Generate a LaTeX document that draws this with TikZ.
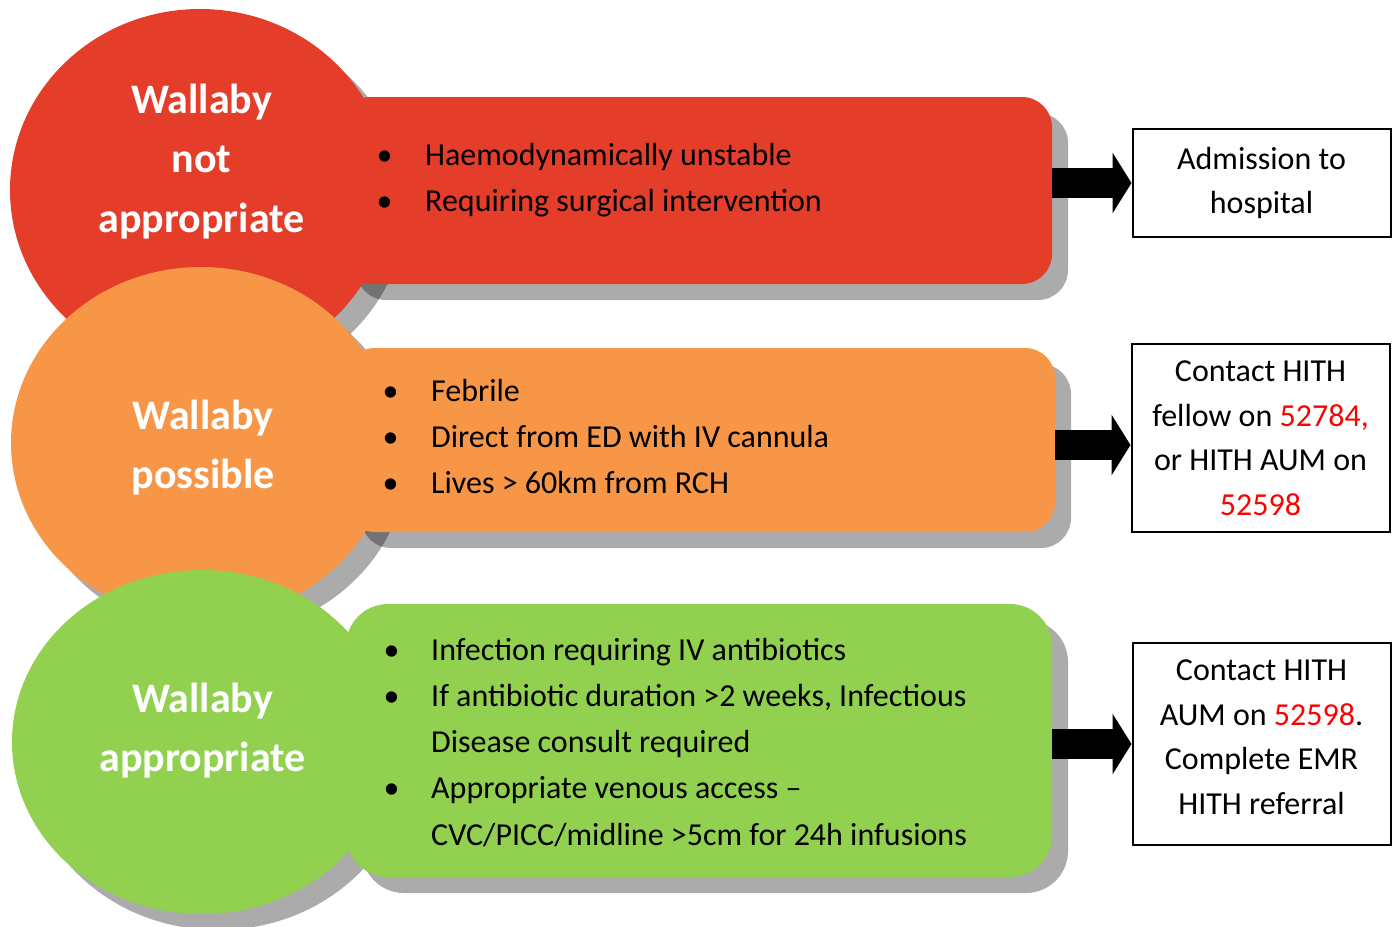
\documentclass[tikz,border=0pt]{standalone}
\usepackage{fontspec}
\setmainfont{Carlito}
\usetikzlibrary{arrows.meta,positioning,shapes.geometric}
\definecolor{wred}{HTML}{E43D2A}
\definecolor{worange}{HTML}{F79646}
\definecolor{wgreen}{HTML}{92D050}
\definecolor{numred}{HTML}{FF0000}

\begin{document}
\begin{tikzpicture}[x=1pt, y=-1pt,
    every node/.style={font=\fontsize{32}{44.5}\selectfont},
    blob/.style={ellipse, minimum width=380pt, minimum height=#1, inner sep=0pt},
    band/.style={rectangle, rounded corners=#1, inner sep=0pt},
    shade/.style={fill=black, fill opacity=0.33, draw=none},
    title/.style={text=white, font=\bfseries\fontsize{42}{59.5}\selectfont, anchor=base, inner sep=0pt},
    items/.style={anchor=base west, inner sep=0pt, font=\fontsize{32}{46.3}\selectfont},
    outbox/.style={draw, line width=2pt, minimum width=258pt, align=center, inner sep=0pt},
    fat/.style={line width=30pt, -{Triangle[length=19pt, width=60pt]}}
  ]
  \useasboundingbox (0,0) rectangle (1394,926);

  \node[blob=362pt, shade] (redcircsh) at (216,206) {};
  \node[band=30pt, shade, minimum width=712pt, minimum height=187pt] (redrectsh) at (712,206.5) {};
  \node[blob=362pt, fill=wred] (redcirc) at (200,190) {};
  \node[band=30pt, fill=wred, minimum width=712pt, minimum height=187pt] (redrect) at (696,190.5) {};

  \node[blob=352pt, shade] (orangecircsh) at (217,459) {};
  \node[band=30pt, shade, minimum width=710pt, minimum height=184pt] (orangerectsh) at (716,456) {};
  \node[blob=352pt, fill=worange] (orangecirc) at (201,443) {};
  \node[band=30pt, fill=worange, minimum width=710pt, minimum height=184pt] (orangerect) at (700,440) {};

  \node[blob=344pt, shade] (greencircsh) at (218,758) {};
  \node[band=42pt, shade, minimum width=706pt, minimum height=273pt] (greenrectsh) at (715,756.5) {};
  \node[blob=344pt, fill=wgreen] (greencirc) at (202,742) {};
  \node[band=42pt, fill=wgreen, minimum width=706pt, minimum height=273pt] (greenrect) at (699,740.5) {};

  \node[title] (redtitle) at (201.5,113) {\begin{tabular}[t]{@{}c@{}}Wallaby\\not\\appropriate\end{tabular}};
  \node[title] (orangetitle) at (203,429) {\begin{tabular}[t]{@{}c@{}}Wallaby\\possible\end{tabular}};
  \node[title] (greentitle) at (202.5,712) {\begin{tabular}[t]{@{}c@{}}Wallaby\\appropriate\end{tabular}};

  \node[items] (reditems) at (376.5,165) {\begin{tabular}[t]{@{}p{48.5pt}@{}l@{}}
    \textbullet & Haemodynamically unstable\\
    \textbullet & Requiring surgical intervention
  \end{tabular}};
  \node[items] (orangeitems) at (382.5,401) {\begin{tabular}[t]{@{}p{48.5pt}@{}l@{}}
    \textbullet & Febrile\\
    \textbullet & Direct from ED with IV cannula\\
    \textbullet & Lives > 60km from RCH
  \end{tabular}};
  \node[items] (greenitems) at (383.5,660) {\begin{tabular}[t]{@{}p{47.5pt}@{}l@{}}
    \textbullet & Infection requiring IV antibiotics\\
    \textbullet & If antibiotic duration >2 weeks, Infectious\\
                & Disease consult required\\
    \textbullet & Appropriate venous access --\\
                & CVC/PICC/midline >5cm for 24h infusions
  \end{tabular}};

  \node[outbox, minimum height=108pt] (admit) at (1261.5,183) {Admission to\\hospital};
  \node[outbox, minimum height=188pt] (fellow) at (1260.5,438) {Contact HITH\\fellow on \textcolor{numred}{52784,}\\or HITH AUM on\\\textcolor{numred}{52598}};
  \node[outbox, minimum height=202pt] (referral) at (1261.5,744) {Contact HITH\\AUM on \textcolor{numred}{52598}.\\Complete EMR\\HITH referral\strut};

  \draw[fat] (redrect.east |- admit.west) -- (admit.west);
  \draw[fat] ([yshift=-7pt]orangerect.east |- fellow.west) -- ([yshift=-7pt]fellow.west);
  \draw[fat] (greenrect.east |- referral.west) -- (referral.west);
\end{tikzpicture}
\end{document}
